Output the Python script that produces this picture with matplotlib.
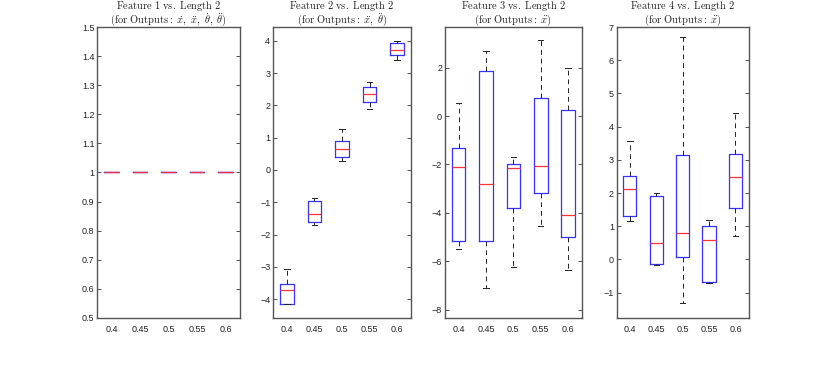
import numpy as np
import matplotlib
matplotlib.use("Agg")
import matplotlib.pyplot as plt

plt.rcParams['mathtext.fontset'] = 'cm'
plt.rcParams['font.family'] = ['Liberation Sans', 'DejaVu Sans']

lengths = ['0.4', '0.45', '0.5', '0.55', '0.6']

title_top = [
    r'$\mathrm{Feature\ 1\ vs.\ Length\ 2}$',
    r'$\mathrm{Feature\ 2\ vs.\ Length\ 2}$',
    r'$\mathrm{Feature\ 3\ vs.\ Length\ 2}$',
    r'$\mathrm{Feature\ 4\ vs.\ Length\ 2}$',
]
title_bottom = [
    r'$\mathrm{(for\ Outputs:}\ \dot{x},\ \ddot{x},\ \dot{\theta},\ \ddot{\theta})$',
    r'$\mathrm{(for\ Outputs:}\ \ddot{x},\ \ddot{\theta})$',
    r'$\mathrm{(for\ Outputs:}\ \ddot{x})$',
    r'$\mathrm{(for\ Outputs:}\ \ddot{x})$',
]

# box statistics per length: whisker low, q1, median, q3, whisker high
f1_lo = [1.0, 1.0, 1.0, 1.0, 1.0]
f1_q1 = [1.0, 1.0, 1.0, 1.0, 1.0]
f1_med = [1.0, 1.0, 1.0, 1.0, 1.0]
f1_q3 = [1.0, 1.0, 1.0, 1.0, 1.0]
f1_hi = [1.0, 1.0, 1.0, 1.0, 1.0]

f2_lo = [-4.16, -1.69, 0.28, 1.90, 3.41]
f2_q1 = [-4.14, -1.62, 0.415, 2.095, 3.56]
f2_med = [-3.72, -1.36, 0.66, 2.355, 3.72]
f2_q3 = [-3.52, -0.975, 0.91, 2.58, 3.95]
f2_hi = [-3.08, -0.87, 1.255, 2.73, 4.01]

f3_lo = [-5.50, -7.10, -6.25, -4.56, -6.37]
f3_q1 = [-5.17, -5.17, -3.81, -3.19, -4.99]
f3_med = [-2.10, -2.81, -2.13, -2.06, -4.11]
f3_q3 = [-1.32, 1.86, -1.98, 0.76, 0.25]
f3_hi = [0.55, 2.70, -1.70, 3.14, 2.00]

f4_lo = [1.155, -0.16, -1.30, -0.715, 0.69]
f4_q1 = [1.30, -0.15, 0.08, -0.68, 1.54]
f4_med = [2.13, 0.50, 0.80, 0.59, 2.47]
f4_q3 = [2.50, 1.92, 3.15, 1.00, 3.17]
f4_hi = [3.57, 2.01, 6.71, 1.175, 4.41]

features = [
    (f1_lo, f1_q1, f1_med, f1_q3, f1_hi),
    (f2_lo, f2_q1, f2_med, f2_q3, f2_hi),
    (f3_lo, f3_q1, f3_med, f3_q3, f3_hi),
    (f4_lo, f4_q1, f4_med, f4_q3, f4_hi),
]
ylims = [(0.5, 1.5), (-4.58, 4.43), (-8.34, 3.68), (-1.76, 7.0)]
yticks = [np.arange(0.5, 1.51, 0.1), np.arange(-4, 4.1, 1),
          np.arange(-8, 2.1, 2), np.arange(-1, 7.1, 1)]

# axes rectangles in figure fraction
rects = [
    [0.117, 0.141, 0.172, 0.786],
    [0.329, 0.141, 0.166, 0.786],
    [0.536, 0.141, 0.165, 0.786],
    [0.743, 0.141, 0.159, 0.786],
]

fig = plt.figure(figsize=(8.3, 3.7), dpi=100)

for k in range(4):
    ax = fig.add_axes(rects[k])
    lo, q1, med, q3, hi = features[k]
    stats = []
    for i in range(len(lengths)):
        stats.append({'whislo': lo[i], 'q1': q1[i], 'med': med[i],
                      'q3': q3[i], 'whishi': hi[i], 'fliers': [],
                      'label': lengths[i]})
    ax.bxp(stats, widths=0.5, capwidths=0.2,
           boxprops=dict(color='#3333ff', linewidth=0.9),
           medianprops=dict(color='#ff3333', linewidth=0.9),
           whiskerprops=dict(color='#222222', linewidth=0.7, linestyle=(0, (5, 4))),
           capprops=dict(color='#222222', linewidth=0.7),
           showfliers=False)
    ax.set_xlim(0.5, 5.5)
    ax.set_ylim(*ylims[k])
    ax.set_yticks(yticks[k])
    labels = []
    for v in yticks[k]:
        if k == 0:
            s = '1' if abs(v - 1) < 1e-9 else '%.1f' % v
        else:
            s = '%g' % v
        labels.append(s.replace('-', '\u2212'))
    ax.set_yticklabels(labels)
    ax.tick_params(axis='y', direction='in', length=3, width=0.6, labelsize=6.5,
                   right=True, colors='#333333', labelcolor='#222222', pad=2)
    ax.tick_params(axis='x', length=0, labelsize=6.5, labelcolor='#222222', pad=5)
    for sp in ax.spines.values():
        sp.set_color('#555555')
        sp.set_linewidth(1.0)
    ax.text(0.5, 1.073, title_top[k], transform=ax.transAxes, ha='center',
            va='center', fontsize=7.5, color='#222222')
    ax.text(0.5, 1.024, title_bottom[k], transform=ax.transAxes, ha='center',
            va='center', fontsize=7.5, color='#222222')

fig.savefig('out.png', dpi=100)
